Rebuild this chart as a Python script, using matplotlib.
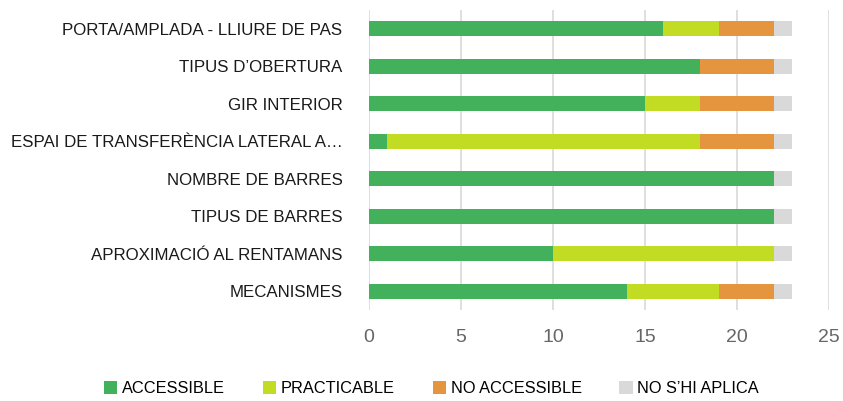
import numpy as np
import matplotlib.pyplot as plt

plt.rcParams['font.family'] = ['Liberation Sans', 'DejaVu Sans']

categories = [
    "PORTA/AMPLADA - LLIURE DE PAS",
    "TIPUS D\u2019OBERTURA",
    "GIR INTERIOR",
    "ESPAI DE TRANSFER\u00c8NCIA LATERAL A\u2026",
    "NOMBRE DE BARRES",
    "TIPUS DE BARRES",
    "APROXIMACI\u00d3 AL RENTAMANS",
    "MECANISMES",
]
accessible = [16, 18, 15, 1, 22, 22, 10, 14]
practicable = [3, 0, 3, 17, 0, 0, 12, 5]
no_accessible = [3, 4, 4, 4, 0, 0, 0, 3]
no_aplica = [1, 1, 1, 1, 1, 1, 1, 1]

series = [
    ("ACCESSIBLE", accessible, "#43B05C"),
    ("PRACTICABLE", practicable, "#C2DC23"),
    ("NO ACCESSIBLE", no_accessible, "#E5953D"),
    ("NO S\u2019HI APLICA", no_aplica, "#D9D9D9"),
]

fig = plt.figure(figsize=(8.43, 4.01), dpi=100)
ax = fig.add_axes([0.4377, 0.227, 0.5457, 0.748])

y = np.arange(len(categories))
left = np.zeros(len(categories))
for name, vals, col in series:
    ax.barh(y, vals, left=left, height=0.4, color=col, label=name, zorder=3)
    left += np.array(vals)

ax.set_yticks(y)
ax.set_yticklabels(categories, fontsize=12.2, color="#1a1a1a")
ax.set_ylim(len(categories) - 0.5, -0.5)
ax.set_xlim(0, 25)
ax.set_xticks([0, 5, 10, 15, 20, 25])
ax.tick_params(axis="x", labelsize=14, colors="#666666", length=0, pad=14)
ax.tick_params(axis="y", length=0, pad=19)
ax.grid(axis="x", color="#D9D9D9", linewidth=1.2, zorder=0)
for s in ax.spines.values():
    s.set_visible(False)

fig.legend(loc="lower center", bbox_to_anchor=(0.512, -0.025), ncol=4, frameon=False,
           fontsize=11.8, handlelength=0.8, handleheight=0.8, handletextpad=0.3,
           columnspacing=2.3)

fig.savefig("out.png", dpi=100)
